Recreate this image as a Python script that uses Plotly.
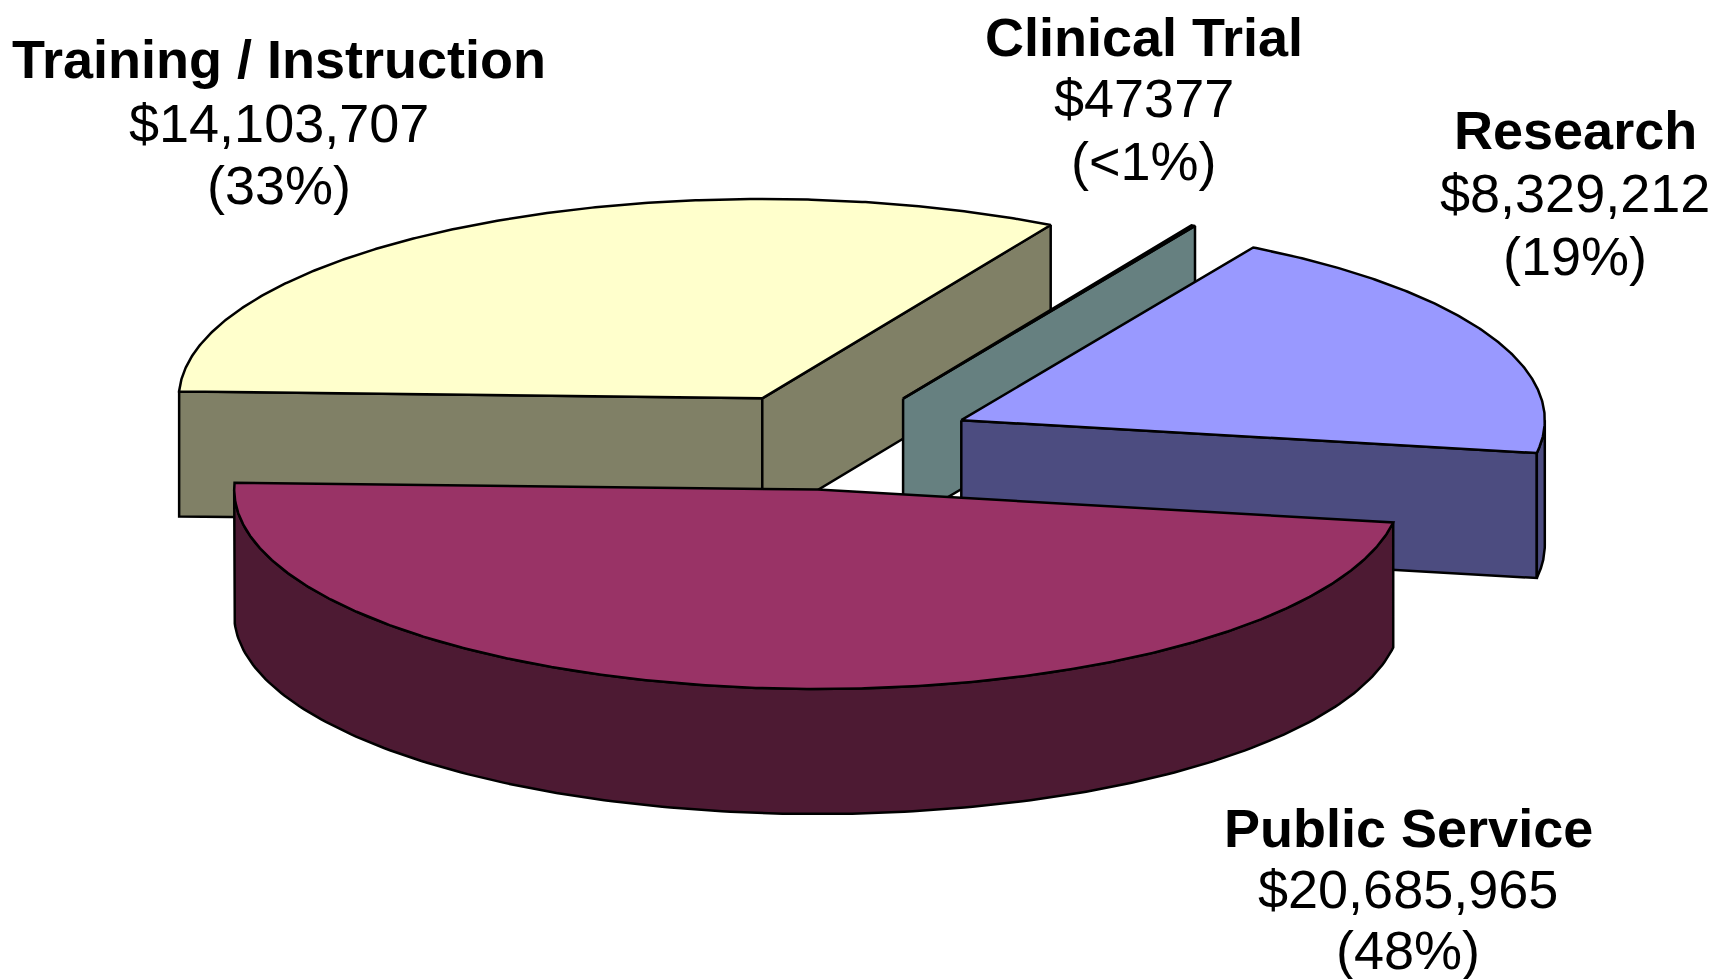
import numpy as np
import plotly.graph_objects as go

# ---- data ----
categories = ["Training / Instruction", "Clinical Trial", "Research", "Public Service"]
values = [14103707, 47377, 8329212, 20685965]
value_labels = ["$14,103,707", "$47377", "$8,329,212", "$20,685,965"]
percent_labels = ["(33%)", "(<1%)", "(19%)", "(48%)"]

# ---- style ----
top_colors = ["#FFFFCC", "#CCFFFF", "#9999FF", "#993366"]
side_colors = ["#808066", "#668080", "#4C4C80", "#4D1A33"]

W, H = 1718, 979
CX, CY = 824.0, 433.0
RX, RY = 583.5, 199.4
EXPLODE = 0.245
DEPTH = 125.0
START = 182.0
LW = 2.5

label_x = [271, 1136, 1567, 1400]
label_y = [[51, 115, 177], [29, 90, 153], [122, 185, 248], [820, 881, 942]]
FONT = "Liberation Sans, Arial, sans-serif"
FSIZE = 54

fig = go.Figure()


def add_poly(xs, ys, color):
    xs = list(xs) + [xs[0]]
    ys = list(ys) + [ys[0]]
    fig.add_trace(go.Scatter(x=xs, y=ys, mode="lines", fill="toself",
                             fillcolor=color, line=dict(color="black", width=LW),
                             hoverinfo="skip", showlegend=False))


total = float(sum(values))
angle = START
for i, v in enumerate(values):
    span = v / total * 360.0
    a, b = angle, angle + span
    angle = b
    m = np.radians((a + b) / 2)
    ax = CX + RX * EXPLODE * np.cos(m)
    ay = CY + RY * EXPLODE * np.sin(m)

    def edge(t, dz=0.0):
        r = np.radians(t)
        return ax + RX * np.cos(r), ay + RY * np.sin(r) + dz

    # radial walls
    for t, normal in ((a, a - 90), (b, b + 90)):
        if np.sin(np.radians(normal)) > 1e-9:
            ex, ey = edge(t)
            add_poly([ax, ex, ex, ax], [ay, ey, ey + DEPTH, ay + DEPTH], side_colors[i])

    # curved outer wall (front-facing portions)
    k0 = int(np.floor(a / 360.0)) - 1
    for k in range(k0, k0 + 4):
        lo, hi = max(a, k * 360.0), min(b, k * 360.0 + 180.0)
        if hi - lo > 1e-6:
            ts = np.linspace(lo, hi, 200)
            xs_top, ys_top = edge(ts)
            xs_bot, ys_bot = edge(ts[::-1], DEPTH)
            add_poly(np.concatenate([xs_top, xs_bot]), np.concatenate([ys_top, ys_bot]),
                     side_colors[i])

    # top face
    ts = np.linspace(a, b, max(3, int(span * 3)))
    xs, ys = edge(ts)
    add_poly(np.concatenate([[ax], xs]), np.concatenate([[ay], ys]), top_colors[i])

# labels
for i in range(len(categories)):
    texts = [f"<b>{categories[i]}</b>", value_labels[i], percent_labels[i]]
    for j, t in enumerate(texts):
        fig.add_annotation(x=label_x[i], y=label_y[i][j], text=t, showarrow=False,
                           xanchor="center", yanchor="middle",
                           font=dict(family=FONT, size=FSIZE, color="black"))

fig.update_layout(
    width=W, height=H, margin=dict(l=0, r=0, t=0, b=0),
    paper_bgcolor="white", plot_bgcolor="white",
    xaxis=dict(range=[0, W], visible=False, fixedrange=True),
    yaxis=dict(range=[H, 0], visible=False, fixedrange=True),
)
fig.write_html("out.html")
